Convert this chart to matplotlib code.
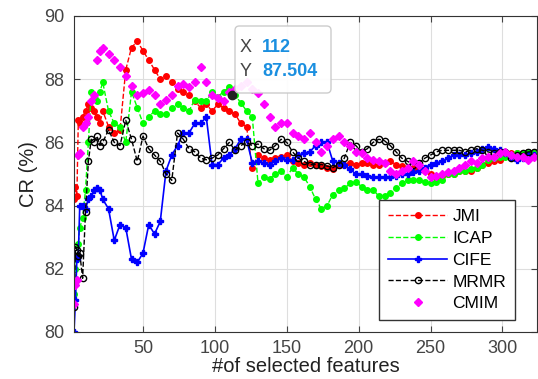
import matplotlib
matplotlib.use('Agg')
import matplotlib.pyplot as plt
from matplotlib.patches import FancyBboxPatch

plt.rcParams['font.family'] = ['Liberation Sans', 'DejaVu Sans']

# number of selected features (x) and CR (%) for each method
feats = [2, 3, 4, 5, 6, 8, 10, 12, 14, 16, 18, 20,
         22, 26, 30, 34, 38, 42, 46, 50, 54, 58, 62, 66, 70, 74, 78, 82, 86, 90,
         94, 98, 102, 106, 110, 114, 118, 122, 126, 130, 134, 138, 142, 146, 150,
         154, 158, 162, 166, 170, 174, 178, 182, 186, 190, 194, 198, 202, 206, 210,
         214, 218, 222, 226, 230, 234, 238, 242, 246, 250, 254, 258, 262, 266, 270,
         274, 278, 282, 286, 290, 294, 298, 302, 306, 310, 314, 318, 322]

jmi = [84.2, 84.6, 84.3, 86.7, 86.6, 86.8, 87.0, 87.2, 87.1, 87.0, 86.8, 86.6,
       87.0, 86.5, 86.3, 86.4, 88.3, 89.0, 89.2, 88.9, 88.6, 88.3, 88.0, 88.1, 87.9, 87.7, 87.6, 87.5, 87.3, 87.1,
       87.2, 87.0, 87.2, 87.1, 87.0, 86.9, 86.6, 86.5, 85.2, 85.6, 85.5, 85.45, 85.5, 85.55, 85.6,
       85.4, 85.35, 85.3, 85.35, 85.3, 85.25, 85.2, 85.15, 85.3, 85.3, 85.35, 85.3, 85.35, 85.35, 85.3,
       85.3, 85.35, 85.4, 85.3, 85.25, 85.2, 85.2, 85.15, 85.1, 85.0, 84.9, 84.95, 85.0, 85.0, 85.1,
       85.1, 85.1, 85.2, 85.3, 85.35, 85.4, 85.45, 85.6, 85.65, 85.65, 85.6, 85.7, 85.7]

icap = [81.2, 82.0, 82.3, 82.8, 83.3, 83.6, 84.5, 86.0, 87.6, 87.4, 87.3, 87.6,
        87.9, 87.0, 86.6, 86.5, 86.0, 87.6, 87.1, 86.6, 86.8, 87.0, 86.9, 86.9, 87.1, 87.2, 87.1, 87.0, 87.35, 87.3,
        87.3, 87.6, 87.45, 87.6, 87.75, 87.5, 87.25, 87.0, 86.8, 84.7, 84.9, 84.85, 85.0, 85.1, 84.9,
        85.2, 85.0, 84.9, 84.6, 84.2, 83.9, 84.0, 84.35, 84.5, 84.55, 84.7, 84.75, 84.6, 84.5, 84.5,
        84.3, 84.3, 84.4, 84.55, 84.7, 84.8, 84.8, 84.8, 84.75, 84.7, 84.75, 84.8, 85.0, 85.0, 85.1,
        85.1, 85.15, 85.2, 85.3, 85.45, 85.5, 85.55, 85.55, 85.6, 85.65, 85.65, 85.7, 85.7]

cife = [80.0, 81.0, 82.3, 82.4, 84.0, 84.0, 83.9, 84.2, 84.3, 84.5, 84.55, 84.5,
        84.2, 83.9, 82.9, 83.4, 83.3, 82.3, 82.2, 82.5, 83.4, 83.1, 83.5, 85.1, 85.6, 85.9, 86.3, 86.3, 86.6, 86.6,
        86.8, 85.3, 85.3, 85.5, 85.6, 85.8, 86.1, 86.1, 85.35, 85.4, 85.35, 85.3, 85.4, 85.5, 85.45,
        85.45, 85.6, 85.65, 85.7, 85.9, 86.0, 86.0, 85.4, 85.35, 85.3, 85.15, 85.0, 85.0, 84.95, 84.9,
        84.9, 84.9, 84.9, 84.95, 85.0, 85.0, 85.05, 85.1, 85.2, 85.3, 85.35, 85.4, 85.5, 85.6, 85.6,
        85.6, 85.65, 85.7, 85.8, 85.85, 85.8, 85.75, 85.65, 85.55, 85.45, 85.5, 85.6, 85.6]

mrmr = [80.8, 82.7, 82.6, 82.4, 82.5, 81.7, 83.8, 85.4, 86.1, 86.0, 86.2, 85.9,
        86.0, 86.4, 86.0, 85.9, 86.7, 86.1, 85.4, 86.2, 85.8, 85.6, 85.4, 85.0, 84.8, 86.3, 86.1, 85.8, 85.7, 85.5,
        85.45, 85.5, 85.6, 85.8, 86.0, 85.75, 85.9, 86.0, 85.9, 85.95, 85.8, 85.75, 85.9, 86.1, 86.0,
        85.7, 85.5, 85.4, 85.3, 85.3, 85.3, 85.25, 85.2, 85.3, 85.5, 86.0, 85.9, 85.7, 85.8, 86.0,
        86.1, 86.05, 85.9, 85.7, 85.5, 85.4, 85.3, 85.35, 85.5, 85.6, 85.7, 85.75, 85.75, 85.75, 85.75,
        85.7, 85.75, 85.8, 85.75, 85.7, 85.65, 85.7, 85.7, 85.5, 85.6, 85.65, 85.7, 85.7]

cmim = [80.9, 81.5, 81.65, 85.6, 85.65, 86.5, 86.6, 86.8, 87.3, 87.5, 88.6, 88.9,
        89.0, 88.8, 88.6, 88.4, 88.1, 87.8, 87.5, 87.55, 87.65, 87.5, 87.2, 87.35, 87.5, 87.8, 87.85, 87.75, 87.9, 88.4,
        87.9, 87.5, 87.4, 87.3, 87.6, 87.7, 87.8, 87.9, 87.7, 87.55, 87.2, 86.8, 86.5, 86.6, 86.6,
        86.3, 86.2, 86.1, 86.3, 86.0, 85.7, 85.9, 86.1, 86.2, 86.0, 85.9, 85.7, 85.65, 85.5, 85.45,
        85.4, 85.35, 85.1, 85.0, 85.1, 85.2, 85.4, 85.3, 85.1, 84.9, 84.95, 85.0, 85.05, 85.1, 85.2,
        85.3, 85.4, 85.35, 85.5, 85.55, 85.55, 85.65, 85.7, 85.6, 85.55, 85.55, 85.45, 85.55]

tip_x = 112
tip_y = 87.504

W, H = 538, 379
fig = plt.figure(figsize=(W / 100, H / 100), dpi=100)
ax = fig.add_axes([74 / W, 47 / H, 463 / W, 316 / H])

ax.plot(feats, jmi, '--o', color='red', ms=4, lw=1, label='JMI')
ax.plot(feats, icap, '--o', color='#00ff00', ms=4, lw=1, label='ICAP')
ax.plot(feats, cife, '-P', color='blue', ms=5, lw=1.2, label='CIFE')
ax.plot(feats, mrmr, '--o', color='black', mfc='none', ms=4.5, lw=1, label='MRMR')
ax.plot(feats, cmim, 'D', color='magenta', ms=4, ls='none', label='CMIM')

# data tip marker and box (box placed in figure pixels)
ax.plot([tip_x], [tip_y], 'o', color='#222222', ms=6, zorder=5)
box = FancyBboxPatch((235 / W, 1 - 93 / H), 96 / W, 67 / H,
                     boxstyle='round,pad=0,rounding_size=0.008',
                     mutation_aspect=W / H, transform=fig.transFigure,
                     fc='white', ec='#c8c8c8', lw=1, alpha=0.92, zorder=4)
fig.patches.append(box)
fig.text(240 / W, 1 - 48 / H, 'X', fontsize=13, color='#444444', va='center', zorder=6)
fig.text(262 / W, 1 - 48 / H, str(tip_x), fontsize=13, color='#1a8fe0',
         fontweight='bold', va='center', zorder=6)
fig.text(240 / W, 1 - 71 / H, 'Y', fontsize=13, color='#444444', va='center', zorder=6)
fig.text(262 / W, 1 - 71 / H, '%.3f' % tip_y, fontsize=13, color='#1a8fe0',
         fontweight='bold', va='center', zorder=6)

ax.set_xlim(2, 324)
ax.set_ylim(80, 90)
ax.set_xticks([50, 100, 150, 200, 250, 300])
ax.set_yticks([80, 82, 84, 86, 88, 90])
ax.grid(True, color='#dedede', lw=0.8)
ax.tick_params(direction='in', top=True, right=True, labelsize=13, colors='#444444', length=4)
ax.tick_params(axis='y', pad=7)
ax.tick_params(axis='x', pad=6)
for s in ax.spines.values():
    s.set_color('#333333')

ax.set_xlabel('#of selected features', fontsize=14.5, color='#222222', labelpad=0)
ax.set_ylabel('CR (%)', fontsize=14.5, color='#222222', labelpad=4)

leg = ax.legend(loc='lower right', bbox_to_anchor=(0.952, 0.038), borderaxespad=0,
                fontsize=12.5, fancybox=False, edgecolor='#333333', framealpha=1,
                handlelength=3.4, handletextpad=0.3, borderpad=0.5, labelspacing=0.38)
leg.get_frame().set_linewidth(1)

fig.savefig('out.png', dpi=100)
